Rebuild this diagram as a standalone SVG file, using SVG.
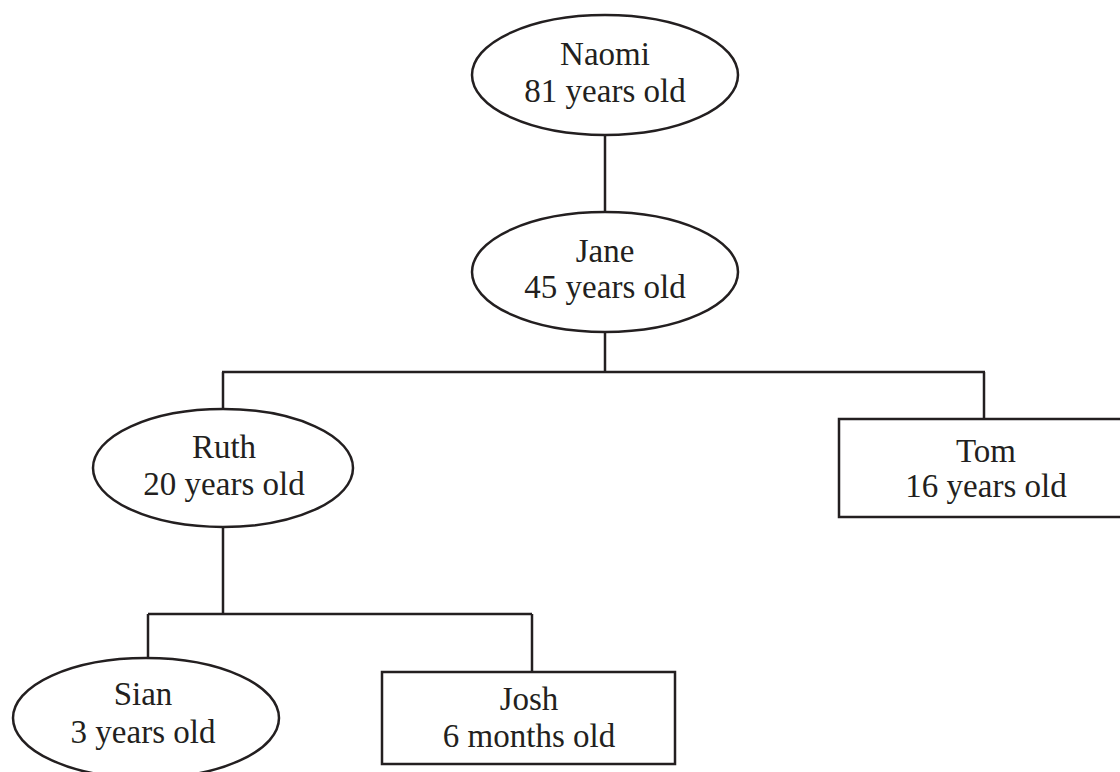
<svg xmlns="http://www.w3.org/2000/svg" width="1120" height="772" viewBox="0 0 1120 772">
<style>
.shape{fill:#fff;stroke:#231f20;stroke-width:2.5}
.conn line{stroke:#231f20;stroke-width:2.5;fill:none}
text{font-family:"Liberation Serif","Times New Roman",serif;font-size:33px;fill:#231f20;text-anchor:middle}
</style>
<rect width="1120" height="772" fill="#fff"/>
<g id="connectors" class="conn">
<line x1="605" y1="135" x2="605" y2="212"/>
<line x1="605" y1="332" x2="605" y2="372"/>
<line x1="222" y1="372" x2="985" y2="372"/>
<line x1="223" y1="372" x2="223" y2="409"/>
<line x1="984" y1="372" x2="984" y2="419"/>
<line x1="223" y1="527" x2="223" y2="614"/>
<line x1="148" y1="614" x2="532" y2="614"/>
<line x1="148" y1="614" x2="148" y2="658"/>
<line x1="532" y1="614" x2="532" y2="672"/>
</g>
<g id="naomi">
<ellipse class="shape" cx="605" cy="75" rx="133" ry="60"/>
<text x="605" y="65">Naomi</text>
<text x="605" y="102">81 years old</text>
</g>
<g id="jane">
<ellipse class="shape" cx="605" cy="272" rx="133" ry="60"/>
<text x="605" y="262">Jane</text>
<text x="605" y="298">45 years old</text>
</g>
<g id="ruth">
<ellipse class="shape" cx="223" cy="468" rx="130" ry="59"/>
<text x="224" y="458">Ruth</text>
<text x="224" y="495">20 years old</text>
</g>
<g id="tom">
<rect class="shape" x="839" y="419" width="290" height="98"/>
<text x="986" y="462">Tom</text>
<text x="986" y="497">16 years old</text>
</g>
<g id="sian">
<ellipse class="shape" cx="146" cy="718" rx="133" ry="60"/>
<text x="143" y="705">Sian</text>
<text x="143" y="743">3 years old</text>
</g>
<g id="josh">
<rect class="shape" x="382" y="672" width="293" height="92"/>
<text x="529" y="710">Josh</text>
<text x="529" y="747">6 months old</text>
</g>
</svg>
